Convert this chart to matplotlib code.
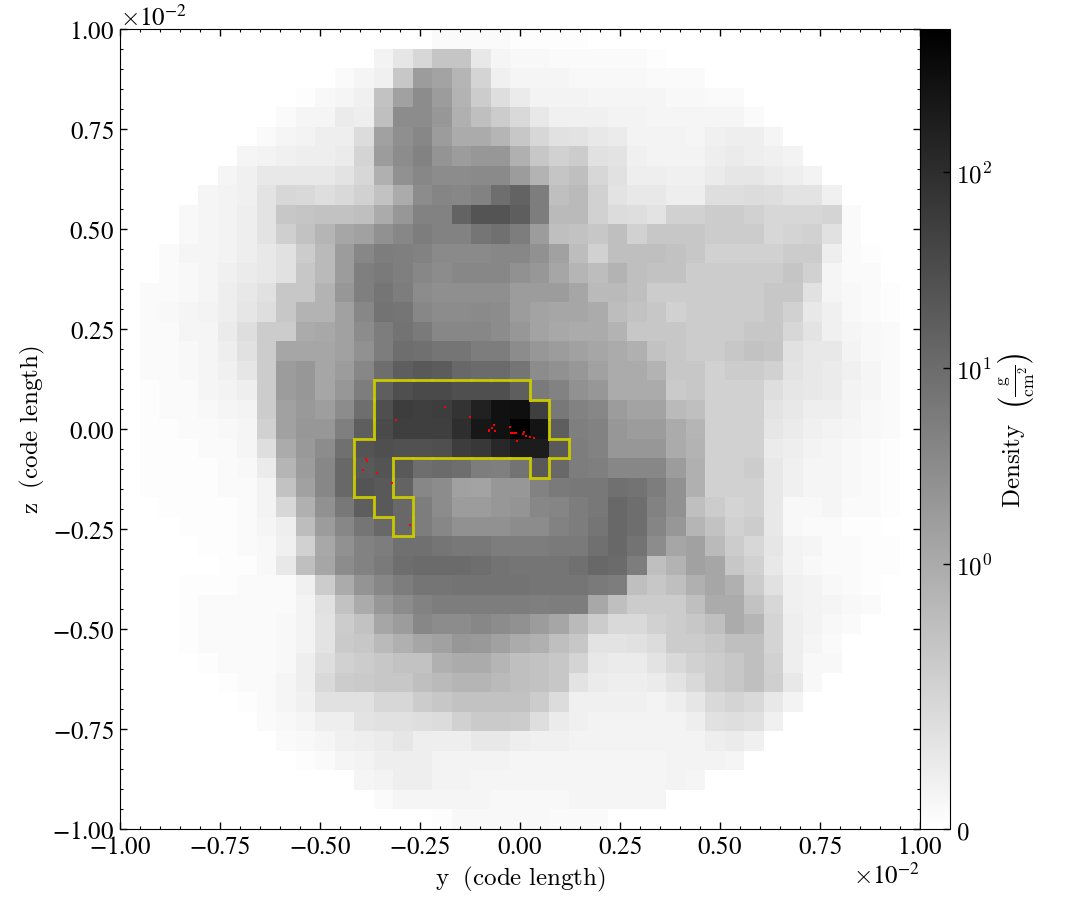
import numpy as np
import matplotlib
matplotlib.use("Agg")
import matplotlib.pyplot as plt
from matplotlib.colors import SymLogNorm
from matplotlib.collections import LineCollection
from matplotlib.ticker import AutoMinorLocator, FixedLocator, FixedFormatter, MultipleLocator

plt.rcParams["font.family"] = "STIXGeneral"
plt.rcParams["mathtext.fontset"] = "cm"
plt.rcParams["axes.formatter.use_mathtext"] = True

# position of each cell on the colour bar in percent
# each row goes with the first column in first_col, everything else is empty
first_col = [16, 13, 11, 9, 8, 7, 6, 5, 4, 3, 3, 2, 2, 1, 1, 1, 1, 1, 1, 1, 1,
             1, 1, 1, 1, 1, 2, 2, 2, 2, 3, 3, 4, 5, 6, 7, 8, 9, 12, 13, 16]
shade = [
    [2, 2, 2, 2, 1, 1, 1, 1],
    [5, 10, 16, 23, 23, 9, 4, 3, 3, 2, 2, 2, 2, 2, 1],
    [2, 4, 6, 22, 39, 36, 29, 17, 6, 4, 4, 4, 3, 3, 3, 3, 2, 2, 2],
    [1, 3, 4, 6, 24, 37, 45, 39, 30, 20, 13, 8, 5, 5, 5, 4, 4, 4, 4, 3, 3, 2, 2],
    [2, 4, 4, 8, 7, 25, 45, 45, 41, 31, 25, 20, 15, 9, 6, 6, 6, 5, 5, 4, 4, 4, 4, 4, 2],
    [2, 4, 5, 7, 7, 14, 37, 44, 47, 39, 33, 33, 29, 22, 16, 12, 11, 9, 8, 5, 5, 5, 4, 6, 7, 7, 4],
    [4, 5, 6, 7, 7, 8, 17, 39, 45, 49, 42, 39, 41, 41, 31, 22, 18, 20, 12, 11, 6, 5, 5, 5, 7, 8, 7, 6, 5],
    [4, 6, 9, 9, 9, 9, 11, 16, 31, 43, 47, 45, 45, 46, 46, 39, 30, 23, 25, 16, 12, 7, 7, 6, 6, 8, 10, 10, 8, 7, 5],
    [4, 5, 6, 11, 16, 15, 13, 15, 18, 24, 33, 45, 48, 47, 49, 57, 61, 51, 25, 27, 18, 11, 9, 9, 7, 7, 13, 13, 14, 13, 11, 11, 6],
    [3, 4, 5, 7, 11, 22, 23, 24, 24, 25, 33, 41, 49, 49, 61, 67, 67, 63, 51, 27, 27, 18, 14, 13, 11, 18, 18, 20, 20, 18, 16, 16, 16, 17, 2],
    [3, 4, 5, 7, 11, 19, 24, 29, 35, 37, 43, 47, 51, 49, 49, 54, 56, 51, 39, 25, 24, 22, 25, 18, 22, 22, 22, 20, 20, 20, 16, 17, 18, 12, 2],
    [2, 4, 4, 5, 7, 9, 12, 20, 27, 39, 47, 51, 50, 49, 46, 46, 46, 47, 47, 43, 37, 26, 18, 25, 25, 25, 24, 22, 18, 18, 18, 18, 20, 20, 7, 2, 1],
    [2, 3, 4, 6, 8, 9, 12, 22, 27, 39, 50, 52, 50, 47, 45, 47, 47, 47, 43, 41, 35, 29, 26, 30, 25, 24, 24, 20, 20, 20, 20, 20, 23, 18, 4, 2, 2],
    [2, 2, 3, 4, 7, 9, 12, 22, 22, 30, 41, 50, 54, 51, 45, 44, 44, 44, 44, 39, 39, 39, 35, 27, 27, 25, 20, 20, 20, 20, 20, 20, 22, 22, 12, 4, 3, 2, 1],
    [2, 3, 4, 5, 7, 10, 13, 22, 30, 30, 37, 47, 55, 54, 47, 45, 45, 46, 45, 39, 36, 35, 35, 33, 26, 24, 22, 18, 20, 20, 20, 20, 22, 18, 9, 6, 3, 2, 1],
    [2, 2, 4, 4, 8, 13, 20, 20, 33, 34, 37, 45, 51, 55, 52, 47, 47, 47, 45, 41, 36, 34, 33, 33, 30, 22, 22, 22, 20, 20, 20, 22, 22, 16, 11, 6, 4, 3, 2],
    [2, 2, 3, 4, 7, 12, 20, 35, 35, 35, 37, 43, 51, 57, 56, 54, 54, 51, 51, 45, 41, 39, 37, 35, 33, 31, 24, 22, 20, 20, 22, 24, 23, 12, 9, 9, 5, 3, 2],
    [2, 2, 3, 4, 6, 10, 20, 39, 41, 35, 39, 47, 57, 63, 65, 64, 59, 58, 58, 54, 45, 43, 41, 37, 33, 33, 30, 22, 22, 18, 20, 20, 18, 11, 9, 8, 6, 4, 2],
    [1, 2, 2, 4, 5, 7, 20, 39, 41, 35, 41, 51, 63, 69, 71, 71, 69, 69, 69, 63, 52, 49, 43, 41, 33, 33, 33, 21, 22, 18, 18, 18, 13, 10, 9, 8, 5, 4, 2],
    [1, 2, 2, 3, 4, 5, 20, 37, 40, 38, 45, 57, 69, 76, 75, 76, 80, 87, 93, 94, 75, 53, 49, 47, 39, 36, 36, 27, 25, 18, 18, 18, 11, 9, 7, 7, 5, 3, 2],
    [1, 1, 2, 2, 3, 4, 18, 37, 41, 41, 50, 63, 71, 75, 75, 75, 82, 91, 93, 100, 92, 63, 50, 49, 41, 39, 39, 33, 29, 18, 18, 18, 10, 8, 6, 5, 4, 3, 2],
    [1, 1, 1, 2, 2, 4, 13, 33, 40, 45, 56, 67, 69, 68, 68, 69, 76, 78, 84, 89, 89, 65, 51, 49, 41, 41, 41, 33, 30, 18, 18, 18, 8, 7, 5, 4, 3, 2, 1],
    [1, 1, 1, 1, 2, 3, 8, 29, 39, 47, 59, 65, 67, 65, 57, 58, 57, 51, 50, 55, 65, 59, 51, 50, 47, 47, 47, 39, 31, 18, 18, 20, 9, 6, 4, 4, 3, 2, 1],
    [1, 1, 1, 1, 2, 2, 5, 24, 37, 47, 59, 67, 65, 61, 47, 45, 37, 36, 41, 41, 49, 52, 53, 53, 56, 55, 51, 43, 31, 18, 18, 18, 9, 6, 4, 4, 3, 2, 1],
    [0, 1, 1, 1, 1, 2, 5, 16, 31, 43, 53, 63, 65, 59, 51, 45, 39, 39, 41, 42, 47, 48, 51, 53, 59, 57, 49, 43, 25, 20, 17, 18, 9, 3, 3, 4, 2, 2, 1],
    [0, 0, 1, 1, 1, 2, 4, 7, 26, 39, 47, 54, 59, 59, 51, 47, 43, 43, 43, 45, 45, 49, 51, 54, 59, 57, 48, 41, 29, 24, 18, 20, 9, 3, 2, 2, 1, 1, 0],
    [0, 0, 1, 1, 2, 3, 6, 18, 34, 43, 49, 51, 56, 56, 54, 53, 53, 51, 51, 51, 52, 52, 56, 59, 55, 45, 35, 37, 27, 20, 16, 10, 5, 4, 2, 2, 1, 1],
    [0, 0, 0, 1, 1, 3, 9, 25, 35, 45, 49, 52, 57, 58, 58, 58, 57, 55, 54, 54, 54, 56, 59, 58, 51, 25, 30, 37, 35, 22, 18, 9, 5, 3, 2, 2, 1, 1],
    [0, 1, 1, 1, 2, 2, 2, 6, 20, 33, 42, 47, 51, 54, 54, 55, 55, 55, 55, 54, 54, 54, 52, 51, 25, 22, 25, 31, 35, 31, 20, 12, 6, 5, 3, 2, 1],
    [0, 1, 2, 2, 2, 2, 2, 5, 12, 24, 33, 41, 45, 49, 51, 51, 51, 51, 51, 50, 51, 51, 34, 25, 20, 20, 20, 25, 33, 33, 24, 16, 6, 5, 4, 3, 2],
    [1, 2, 2, 2, 2, 3, 5, 11, 20, 24, 35, 39, 47, 45, 45, 47, 45, 43, 39, 35, 27, 20, 15, 15, 18, 20, 22, 25, 33, 29, 17, 7, 5, 3, 2],
    [1, 2, 2, 2, 2, 3, 5, 11, 21, 22, 27, 31, 35, 37, 41, 40, 37, 33, 31, 25, 22, 11, 11, 12, 14, 20, 20, 22, 25, 25, 17, 7, 4, 2],
    [1, 2, 2, 2, 3, 7, 13, 18, 20, 22, 24, 24, 31, 33, 33, 29, 25, 24, 22, 17, 9, 8, 8, 11, 15, 18, 20, 22, 25, 18, 7, 3, 3],
    [1, 2, 2, 4, 7, 15, 20, 21, 22, 22, 25, 27, 29, 29, 27, 25, 24, 22, 11, 8, 7, 7, 8, 11, 15, 20, 22, 25, 19, 9, 3],
    [1, 2, 4, 6, 12, 12, 12, 16, 16, 20, 22, 24, 24, 24, 24, 20, 14, 6, 6, 6, 6, 5, 7, 10, 15, 17, 15, 9, 5],
    [2, 3, 4, 7, 7, 11, 12, 12, 13, 14, 18, 21, 21, 20, 13, 8, 6, 5, 5, 5, 5, 5, 7, 12, 13, 12, 6],
    [2, 3, 4, 6, 7, 8, 10, 7, 7, 7, 9, 9, 7, 6, 6, 5, 5, 5, 5, 5, 5, 5, 7, 8, 6],
    [1, 2, 4, 5, 7, 7, 7, 5, 5, 5, 5, 4, 4, 4, 4, 4, 4, 4, 4, 5, 5, 5, 4],
    [4, 5, 7, 7, 5, 5, 4, 4, 4, 4, 4, 4, 4, 4, 4, 4, 5, 4],
    [2, 4, 4, 4, 4, 4, 3, 3, 3, 3, 4, 4, 4, 4, 4],
    [1, 3, 3, 3, 3, 3, 2, 2, 2],
]

# clump outline: top row, then (first column, last column) per row
clump_top_row = 18
clump_cols = [[(13, 20)], [(13, 21)], [(13, 21)], [(12, 22)],
              [(12, 13), (21, 21)], [(12, 13)], [(13, 14)], [(14, 14)]]

# particles in units of 1e-2
part_y = [-0.188, -0.31, -0.125, -0.065, -0.069, -0.077, -0.078, -0.062, -0.025,
          -0.022, -0.018, -0.015, -0.012, -0.009, -0.008, 0.007, 0.01, 0.015,
          0.025, 0.035, -0.385, -0.383, -0.393, -0.358, -0.321, -0.275]
part_z = [0.054, 0.023, 0.029, 0.011, 0.002, -0.003, -0.005, -0.006, 0.004,
          -0.009, -0.009, -0.009, -0.009, -0.009, -0.031, -0.012, -0.008, -0.017,
          -0.019, -0.022, -0.076, -0.079, -0.102, -0.11, -0.136, -0.241]

n_cells = 41
vmax = 537.0
norm = SymLogNorm(linthresh=1.0, linscale=1.216, vmin=0.0, vmax=vmax, base=10)

# darkness percent -> density through the colour scale
darkness = np.zeros((n_cells, n_cells))
for r, row in enumerate(shade):
    for k, value in enumerate(row):
        darkness[r, first_col[r] + k] = value
density = np.asarray(norm.inverse(darkness / 100.0))

edges = np.linspace(-0.01, 0.01, n_cells + 1)

fig = plt.figure(figsize=(10.85, 9.2), dpi=100)
ax = fig.add_axes([120 / 1085, 1 - 830 / 920, 800 / 1085, 800 / 920])
cax = fig.add_axes([920 / 1085, 1 - 830 / 920, 30 / 1085, 800 / 920])

# rows are listed from the top, so flip them for the plot
mesh = ax.pcolormesh(edges, edges, density[::-1], cmap="gray_r", norm=norm, rasterized=True)

# outline of the clump along cell borders
mask = np.zeros((n_cells + 2, n_cells + 2), dtype=bool)
for i, spans in enumerate(clump_cols):
    for c0, c1 in spans:
        mask[clump_top_row + i + 1, c0 + 1:c1 + 2] = True
top_edges = edges[::-1]
segments = []
for r in range(n_cells):
    for c in range(n_cells):
        if not mask[r + 1, c + 1]:
            continue
        x0, x1 = edges[c], edges[c + 1]
        y1, y0 = top_edges[r], top_edges[r + 1]
        if not mask[r, c + 1]:
            segments.append([(x0, y1), (x1, y1)])
        if not mask[r + 2, c + 1]:
            segments.append([(x0, y0), (x1, y0)])
        if not mask[r + 1, c]:
            segments.append([(x0, y0), (x0, y1)])
        if not mask[r + 1, c + 2]:
            segments.append([(x1, y0), (x1, y1)])
ax.add_collection(LineCollection(segments, colors="#c8c800", linewidths=2.0, capstyle="projecting"))

ax.scatter(np.array(part_y) * 0.01, np.array(part_z) * 0.01, s=2.2, c="red", marker="s", linewidths=0, zorder=3)

ax.set_xlim(-0.01, 0.01)
ax.set_ylim(-0.01, 0.01)
ax.xaxis.set_major_locator(MultipleLocator(0.0025))
ax.yaxis.set_major_locator(MultipleLocator(0.0025))
ax.xaxis.set_minor_locator(AutoMinorLocator(5))
ax.yaxis.set_minor_locator(AutoMinorLocator(5))
ax.ticklabel_format(style="sci", scilimits=(-2, -2), useMathText=True)
ax.tick_params(which="both", direction="in", top=True, right=True, labelsize=18, pad=4)
ax.tick_params(which="major", length=5, width=1)
ax.tick_params(which="minor", length=2.5, width=0.8)
ax.xaxis.get_offset_text().set_fontsize(18)
ax.yaxis.get_offset_text().set_fontsize(18)
ax.set_xlabel(r"$\mathrm{y}\ \ \mathrm{(code\ length)}$", fontsize=18, labelpad=4)
ax.set_ylabel(r"$\mathrm{z}\ \ \mathrm{(code\ length)}$", fontsize=18, labelpad=4)

cb = fig.colorbar(mesh, cax=cax)
cb.ax.yaxis.set_major_locator(FixedLocator([0, 1, 10, 100]))
cb.ax.yaxis.set_major_formatter(FixedFormatter([r"$0$", r"$10^{0}$", r"$10^{1}$", r"$10^{2}$"]))
cb.ax.yaxis.set_minor_locator(FixedLocator([]))
cb.ax.tick_params(which="major", direction="in", length=5, width=1, labelsize=18, pad=4)
cb.set_label(r"$\mathrm{Density}\ \ \left(\frac{\mathrm{g}}{\mathrm{cm}^{2}}\right)$", fontsize=18, labelpad=3)

fig.savefig("out.png", dpi=100)
